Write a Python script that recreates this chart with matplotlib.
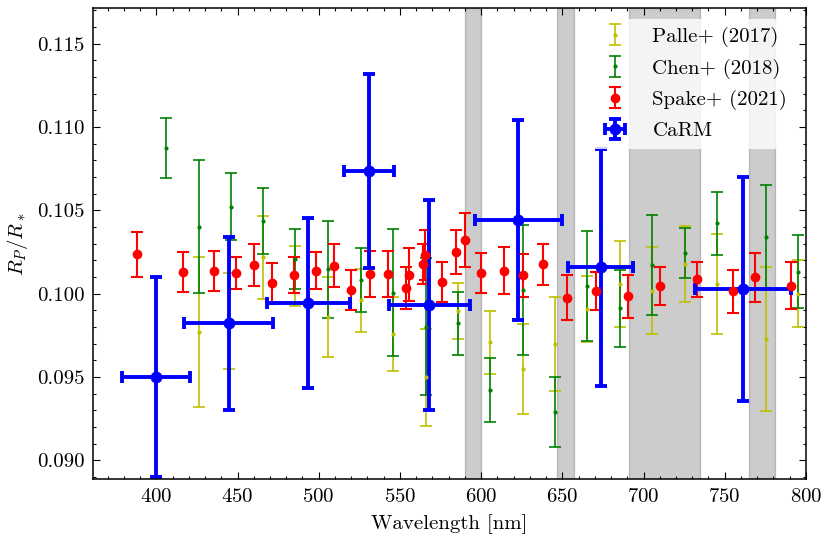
import matplotlib
matplotlib.use('Agg')
import matplotlib.pyplot as plt
from matplotlib.ticker import MultipleLocator, FormatStrFormatter

plt.rcParams['font.family'] = 'serif'
plt.rcParams['font.serif'] = ['cmr10', 'DejaVu Serif']
plt.rcParams['mathtext.fontset'] = 'cm'
plt.rcParams['axes.formatter.use_mathtext'] = True
plt.rcParams['axes.unicode_minus'] = False

# ── data ─────────────────────────────────────────────
palle_wl = [426.0, 445.0, 465.8, 485.7, 505.6, 526.0, 545.6, 566.0, 585.6, 605.5,
            625.6, 645.5, 665.4, 685.5, 705.2, 725.3, 745.2, 775.4, 795.1]
palle_rp = [0.09768, 0.09837, 0.10218, 0.10107, 0.09860, 0.09960, 0.09758, 0.09498, 0.09897, 0.09707,
            0.09548, 0.09698, 0.09909, 0.10058, 0.10018, 0.10178, 0.10058, 0.09728, 0.10000]
palle_err = [0.0045, 0.0029, 0.0025, 0.0018, 0.0024, 0.0019, 0.0022, 0.0029, 0.0017, 0.0019,
             0.0027, 0.0028, 0.0020, 0.0026, 0.0026, 0.0023, 0.0030, 0.0043, 0.0020]

chen_wl = [406.2, 426.0, 446.0, 465.8, 485.7, 505.6, 526.0, 545.6, 566.0, 585.6,
           605.5, 625.6, 645.5, 665.4, 685.5, 705.2, 725.3, 745.2, 775.4, 795.1]
chen_rp = [0.10872, 0.10402, 0.10522, 0.10436, 0.10206, 0.10146, 0.10082, 0.10006, 0.09802, 0.09822,
           0.09422, 0.10022, 0.09292, 0.10046, 0.09912, 0.10174, 0.10242, 0.10422, 0.10342, 0.10132]
chen_err = [0.0018, 0.0040, 0.0020, 0.0020, 0.0018, 0.0029, 0.0019, 0.0038, 0.0041, 0.0019,
            0.0019, 0.0039, 0.0021, 0.0033, 0.0023, 0.0030, 0.0015, 0.0019, 0.0031, 0.0022]

spake_wl = [388.3, 416.4, 435.5, 449.0, 460.1, 471.2, 484.9, 498.5, 509.5, 520.0,
            531.3, 542.4, 553.8, 555.7, 564.3, 565.7, 575.8, 584.6, 590.2, 599.8,
            614.2, 625.6, 638.0, 653.1, 670.6, 690.5, 710.2, 732.7, 754.9, 768.4, 791.0]
spake_rp = [0.10236, 0.10132, 0.10138, 0.10122, 0.10172, 0.10062, 0.10112, 0.10138, 0.10168, 0.10024,
            0.10118, 0.10118, 0.10036, 0.10114, 0.10178, 0.10232, 0.10068, 0.10250, 0.10322, 0.10126,
            0.10138, 0.10110, 0.10176, 0.09976, 0.10018, 0.09984, 0.10044, 0.10086, 0.10014, 0.10098, 0.10048]
spake_err = [0.00136, 0.0012, 0.0012, 0.00096, 0.00126, 0.00124, 0.0011, 0.0011, 0.00128, 0.0012,
             0.0014, 0.0014, 0.00126, 0.0016, 0.0012, 0.0015, 0.0012, 0.00134, 0.0016, 0.0012,
             0.0014, 0.0013, 0.00124, 0.00136, 0.00114, 0.00128, 0.00114, 0.00106, 0.00128, 0.00148, 0.0014]

carm_wl = [399.6, 444.5, 493.7, 531.1, 568.2, 623.0, 673.6, 761.4]
carm_wl_err = [21.0, 27.3, 25.7, 15.5, 25.2, 26.7, 20.0, 29.4]
carm_rp = [0.09502, 0.09822, 0.09946, 0.10736, 0.09932, 0.10442, 0.10158, 0.10028]
carm_err = [0.0060, 0.0052, 0.0051, 0.0058, 0.0063, 0.0060, 0.0071, 0.0067]

# masked telluric / stellar-line regions
bands = [(590, 600), (647, 657), (691, 735), (765, 781)]

# ── plot ─────────────────────────────────────────────
fig = plt.figure(figsize=(8.3, 5.44), dpi=100)
ax = fig.add_axes([0.112, 0.119, 0.859, 0.866])

for lo, hi in bands:
    ax.axvspan(lo, hi, color='k', alpha=0.2, zorder=0)

ax.errorbar(palle_wl, palle_rp, yerr=palle_err, fmt='.', color='y', ms=4,
            elinewidth=1.2, capsize=4.4, capthick=1.2, label='Palle+ (2017)')
ax.errorbar(chen_wl, chen_rp, yerr=chen_err, fmt='.', color='g', ms=4,
            elinewidth=1.2, capsize=4.4, capthick=1.2, label='Chen+ (2018)')
ax.errorbar(spake_wl, spake_rp, yerr=spake_err, fmt='o', color='r', ms=6,
            elinewidth=1.5, capsize=4.5, capthick=1.5, label='Spake+ (2021)')
ax.errorbar(carm_wl, carm_rp, xerr=carm_wl_err, yerr=carm_err, fmt='o', color='b', ms=7.5,
            elinewidth=2.8, capsize=4.3, capthick=2.8, label='CaRM')

ax.set_xlim(361, 800)
ax.set_ylim(0.08886, 0.11714)
ax.xaxis.set_major_locator(MultipleLocator(50))
ax.xaxis.set_minor_locator(MultipleLocator(10))
ax.yaxis.set_major_locator(MultipleLocator(0.005))
ax.yaxis.set_minor_locator(MultipleLocator(0.001))
ax.yaxis.set_major_formatter(FormatStrFormatter('%.3f'))
ax.tick_params(which='both', direction='in', top=True, right=True, labelsize=15, pad=6)
ax.tick_params(which='major', length=5, width=0.8)
ax.tick_params(which='minor', length=2.5, width=0.8)
for s in ax.spines.values():
    s.set_linewidth(1.1)

ax.set_xlabel('Wavelength [nm]', fontsize=15, labelpad=6)
ax.set_ylabel(r'$R_P/R_*$', fontsize=15, labelpad=5)

ax.legend(loc='upper right', fontsize=15, frameon=True, framealpha=0.8,
          edgecolor='none', fancybox=False, labelspacing=0.55)

plt.savefig('out.png', dpi=100)
plt.close()
